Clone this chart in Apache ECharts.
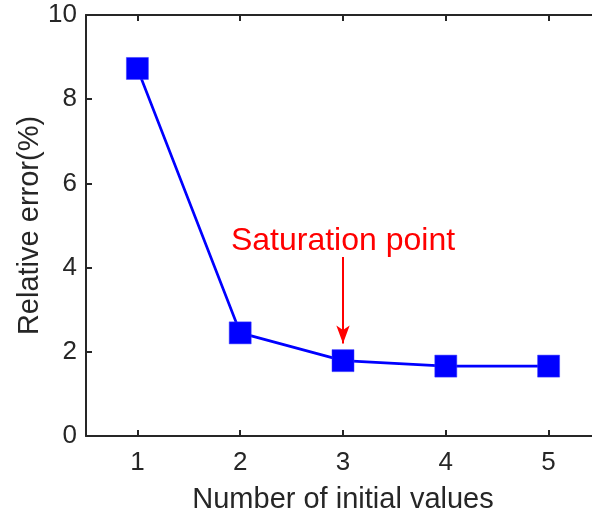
<!DOCTYPE html>
<html>
<head>
<meta charset="utf-8">
<script src="https://cdn.jsdelivr.net/npm/echarts@6/dist/echarts.min.js"></script>
<style>html,body{margin:0;padding:0;background:#fff}#c{width:592px;height:514px}</style>
</head>
<body>
<div id="c"></div>
<script>
var categories = ['1', '2', '3', '4', '5'];
var relativeError = [8.73, 2.45, 1.79, 1.66, 1.66];
var yTicks = [0, 2, 4, 6, 8, 10];
var annotationText = 'Saturation point';
var annotationTextPos = ['3', 4.63];
var arrowFrom = ['3', 4.25];
var arrowTo = ['3', 2.2];

var axisColor = '#262626';
var font = 'Liberation Sans, Arial, Helvetica, sans-serif';
var chart = echarts.init(document.getElementById('c'), null, {renderer: 'canvas'});
chart.setOption({
  animation: false,
  backgroundColor: '#fff',
  grid: {left: 86, width: 514, top: 15, height: 421, containLabel: false, outerBoundsMode: 'none'},
  xAxis: [{
    type: 'category', data: categories, boundaryGap: true, position: 'bottom',
    name: 'Number of initial values', nameLocation: 'middle', nameGap: 49,
    nameTextStyle: {color: axisColor, fontSize: 29, fontFamily: font},
    axisLine: {show: true, lineStyle: {color: axisColor, width: 2}},
    axisTick: {show: true, inside: true, length: 6, alignWithLabel: true, lineStyle: {color: axisColor, width: 2}},
    axisLabel: {color: axisColor, fontSize: 26, fontFamily: font, margin: 14},
    splitLine: {show: false}
  }, {
    type: 'category', data: categories, boundaryGap: true, position: 'top',
    axisLine: {show: true, lineStyle: {color: axisColor, width: 2}},
    axisTick: {show: true, inside: true, length: 6, alignWithLabel: true, lineStyle: {color: axisColor, width: 2}},
    axisLabel: {show: false}, splitLine: {show: false}
  }],
  yAxis: [{
    type: 'value', min: yTicks[0], max: yTicks[yTicks.length - 1], interval: yTicks[1] - yTicks[0],
    name: 'Relative error(%)', nameLocation: 'middle', nameGap: 42, nameRotate: 90, nameMoveOverlap: false,
    nameTextStyle: {color: axisColor, fontSize: 29, fontFamily: font},
    axisLine: {show: true, lineStyle: {color: axisColor, width: 2}},
    axisTick: {show: true, inside: true, length: 6, lineStyle: {color: axisColor, width: 2}},
    axisLabel: {color: axisColor, fontSize: 26, fontFamily: font, margin: 9},
    splitLine: {show: false}
  }],
  series: [{
    type: 'line', data: relativeError, xAxisIndex: 0, yAxisIndex: 0,
    symbol: 'rect', symbolSize: 22,
    lineStyle: {color: '#0000ff', width: 2.7},
    itemStyle: {color: '#0000ff', borderColor: '#3b3bff', borderWidth: 0.5},
    markLine: {
      silent: true, symbol: ['none', 'arrow'], symbolSize: [10, 18],
      lineStyle: {color: '#ff0000', width: 2, type: 'solid'},
      label: {show: false},
      data: [[{coord: arrowFrom}, {coord: arrowTo}]]
    },
    markPoint: {
      silent: true, symbol: 'circle', symbolSize: 0,
      label: {show: true, position: 'inside', formatter: annotationText, color: '#ff0000', fontSize: 32, fontFamily: font},
      data: [{coord: annotationTextPos}]
    }
  }]
});
</script>
</body>
</html>
